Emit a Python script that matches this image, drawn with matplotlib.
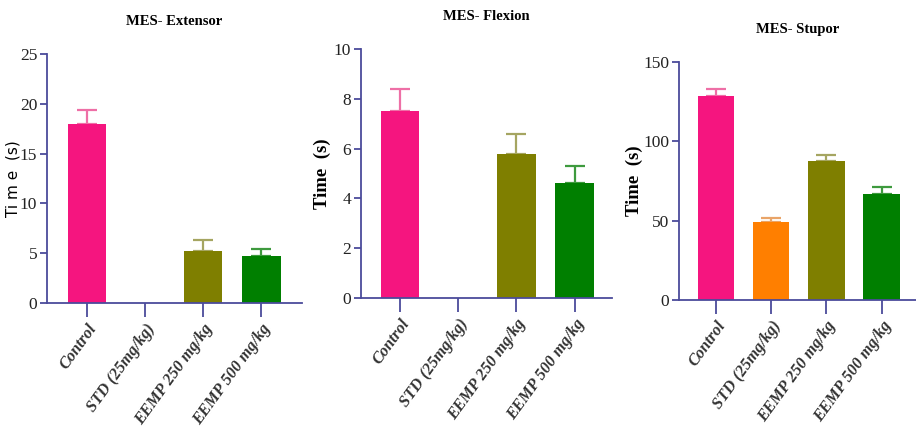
import matplotlib
matplotlib.use("Agg")
import matplotlib.pyplot as plt

groups = ["Control", "STD (25mg/kg)", "EEMP 250 mg/kg", "EEMP 500 mg/kg"]

extensor_mean = [18.0, 0.0, 5.25, 4.7]
extensor_sem = [1.4, 0.0, 1.05, 0.7]

flexion_mean = [7.5, 0.0, 5.8, 4.6]
flexion_sem = [0.9, 0.0, 0.8, 0.7]

stupor_mean = [128.5, 49.0, 87.5, 67.0]
stupor_sem = [4.5, 3.0, 4.0, 4.5]

bar_colors = ["#F5157F", "#FF7F00", "#7F7F00", "#007F00"]
err_colors = ["#EE6FA6", "#E9A468", "#A5A561", "#3E9A3E"]
axis_color = "#4B4B9B"

serif = ["Liberation Serif", "DejaVu Serif"]

panels = [
    # title, means, errors, ymax, yticks, axes rect, xlim, ylabel x
    ("MES- Extensor", extensor_mean, extensor_sem, 25, [0, 5, 10, 15, 20, 25],
     [0.0513, 0.2953, 0.2784, 0.579], (-0.69, 3.7), -0.105),
    ("MES- Flexion", flexion_mean, flexion_sem, 10, [0, 2, 4, 6, 8, 10],
     [0.394, 0.307, 0.274, 0.579], (-0.67, 3.64), -0.12),
    ("MES- Stupor", stupor_mean, stupor_sem, 150, [0, 50, 100, 150],
     [0.741, 0.302, 0.259, 0.554], (-0.67, 3.62), -0.15),
]

fig = plt.figure(figsize=(9.16, 4.30), dpi=100)

for i, (title, means, sems, ymax, yticks, rect, xlim, lab_x) in enumerate(panels):
    ax = fig.add_axes(rect)
    x = range(len(groups))
    ax.bar(x, means, width=0.66, color=bar_colors, zorder=2)
    for xi, m, e, c in zip(x, means, sems, err_colors):
        if m > 0:
            ax.errorbar(xi, m, yerr=[[0], [e]], color=c, capsize=7,
                        capthick=1.6, elinewidth=1.6, zorder=1)
    ax.set_ylim(0, ymax)
    ax.set_xlim(*xlim)
    ax.set_yticks(yticks)
    ax.set_xticks(list(x))
    ax.set_xticklabels(groups, rotation=54, ha="right", rotation_mode="anchor",
                       family=serif, fontsize=11.8, fontweight="bold",
                       style="italic", color="#333333")
    for lab in ax.get_yticklabels():
        lab.set_family(serif)
        lab.set_fontsize(12.5)
        lab.set_color("#222222")
    for side in ("top", "right"):
        ax.spines[side].set_visible(False)
    for side in ("left", "bottom"):
        ax.spines[side].set_color(axis_color)
        ax.spines[side].set_linewidth(1.3)
    ax.tick_params(axis="y", direction="out", length=5, width=1.3,
                   color=axis_color, pad=2)
    ax.tick_params(axis="x", direction="out", length=10, width=1.3,
                   color=axis_color, pad=3)
    ax.set_title(title, family=serif, fontsize=10.5, fontweight="bold",
                 pad=21)
    if i == 0:
        ax.set_ylabel("Ti m e  (s)", family=["DejaVu Sans"], fontsize=11)
    else:
        ax.set_ylabel("Time  (s)", family=serif, fontsize=13.5,
                      fontweight="bold")
    ax.yaxis.set_label_coords(lab_x, 0.5)

fig.savefig("out.png", dpi=100)
